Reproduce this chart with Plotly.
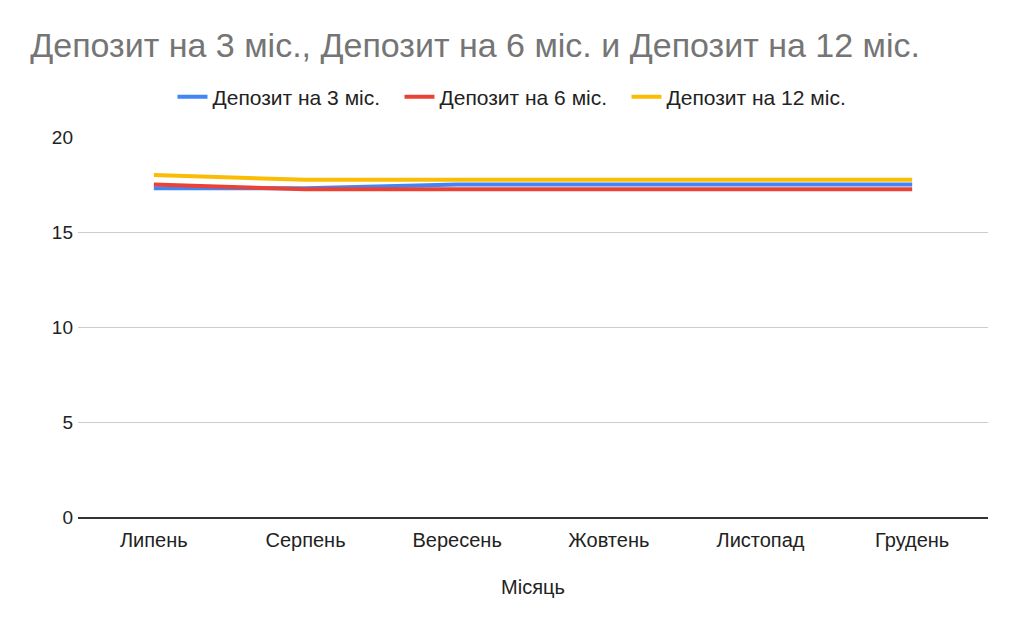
import plotly.graph_objects as go

months = ["Липень", "Серпень", "Вересень", "Жовтень", "Листопад", "Грудень"]
dep_3 = [17.3, 17.3, 17.5, 17.5, 17.5, 17.5]
dep_6 = [17.5, 17.25, 17.25, 17.25, 17.25, 17.25]
dep_12 = [18.0, 17.75, 17.75, 17.75, 17.75, 17.75]

series = [
    ("Депозит на 3 міс.", dep_3, "#4285F4"),
    ("Депозит на 6 міс.", dep_6, "#EA4335"),
    ("Депозит на 12 міс.", dep_12, "#FBBC04"),
]

fig = go.Figure()
for name, vals, color in series:
    fig.add_trace(go.Scatter(x=months, y=vals, name=name, mode="lines",
                             line=dict(color=color, width=4)))

# page has an 8px body margin, so the figure is a bit smaller and shifted
fig.update_layout(
    width=1012, height=622,
    paper_bgcolor="white", plot_bgcolor="white",
    font=dict(family="Liberation Sans, Arial, sans-serif", size=18, color="#222222"),
    title=dict(text="Депозит на 3 міс., Депозит на 6 міс. и Депозит на 12 міс.",
               x=0.022, xanchor="left", y=0.94, yanchor="middle",
               font=dict(size=34, color="#757575")),
    legend=dict(orientation="h", x=0.478, xanchor="center", y=1.105, yanchor="middle",
                itemwidth=30, entrywidth=182,
                font=dict(family="Liberation Sans, Arial, sans-serif", size=21, color="#222222")),
    margin=dict(l=70, r=32, t=129, b=113),
    xaxis=dict(title=dict(text="Місяць", standoff=30,
                          font=dict(family="Liberation Sans, Arial, sans-serif", size=20, color="#222222")),
               range=[-0.5, 5.5], tickfont=dict(size=20),
               showgrid=False, showline=True, linecolor="#333333", linewidth=1.5,
               ticks="", ticklabelstandoff=4),
    yaxis=dict(range=[0, 20], dtick=5, showgrid=True, gridcolor="#cccccc",
               zeroline=False, ticks="", ticklabelstandoff=4, tickfont=dict(size=19)),
)

fig.write_html("out.html")
